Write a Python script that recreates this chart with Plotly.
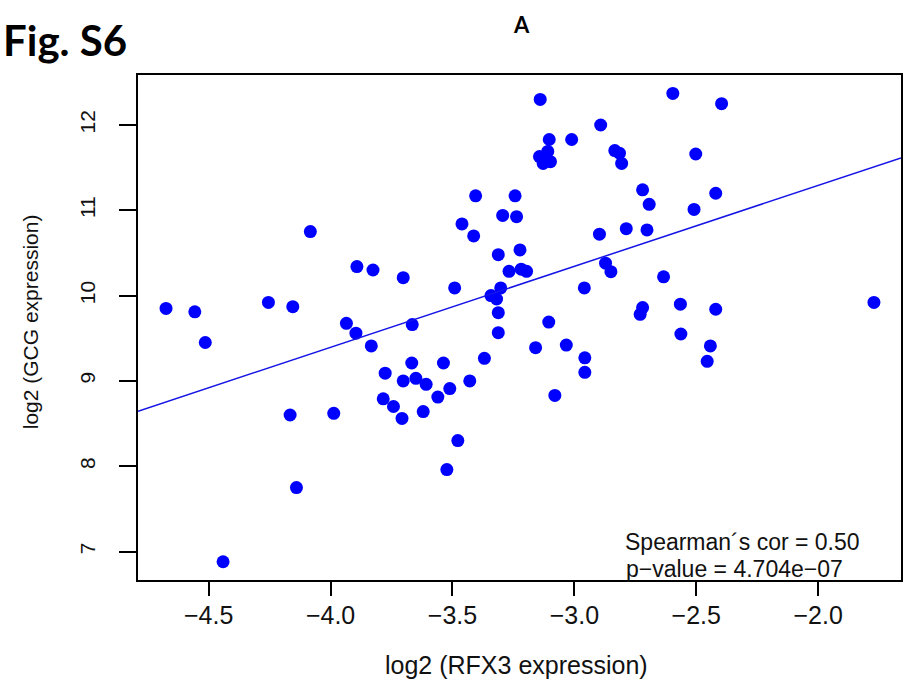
import plotly.graph_objects as go

# log2 (RFX3 expression)
rfx3 = [-4.675, -4.557, -4.514, -4.441, -4.255, -4.166, -4.155, -4.140, -4.083, -3.987,
        -3.935, -3.896, -3.892, -3.833, -3.826, -3.776, -3.784, -3.742, -3.707, -3.702,
        -3.702, -3.667, -3.665, -3.650, -3.620, -3.608, -3.560, -3.537, -3.523, -3.511,
        -3.491, -3.478, -3.461, -3.429, -3.413, -3.405, -3.369, -3.342, -3.319, -3.312,
        -3.312, -3.312, -3.302, -3.294, -3.268, -3.243, -3.237, -3.223, -3.218, -3.196,
        -3.159, -3.143, -3.140, -3.128, -3.109, -3.105, -3.103, -3.098, -3.080, -3.033,
        -3.011, -2.959, -2.957, -2.957, -2.897, -2.892, -2.872, -2.850, -2.834, -2.815,
        -2.806, -2.787, -2.730, -2.720, -2.720, -2.702, -2.693, -2.634, -2.596, -2.565,
        -2.563, -2.509, -2.502, -2.455, -2.442, -2.420, -2.420, -2.396, -1.771]

# log2 (GCG expression)
gcg = [9.85, 9.81, 9.45, 6.88, 9.92, 8.60, 9.87, 7.75, 10.75, 8.62,
       9.675, 9.56, 10.34, 9.41, 10.30, 9.09, 8.79, 8.70, 8.56, 10.21,
       9.00, 9.21, 9.66, 9.03, 8.64, 8.96, 8.81, 9.21, 7.96, 8.91,
       10.09, 8.30, 10.84, 9.00, 10.70, 11.17, 9.265, 10.00, 9.96, 10.48,
       9.80, 9.565, 10.09, 10.94, 10.285, 11.17, 10.925, 10.535, 10.31, 10.285,
       9.39, 11.63, 12.30, 11.55, 11.69, 9.69, 11.83, 11.57, 8.83, 9.42,
       11.83, 10.09, 9.27, 9.10, 10.72, 12.00, 10.38, 10.28, 11.70, 11.67,
       11.55, 10.785, 9.78, 9.86, 11.24, 10.77, 11.07, 10.22, 12.37, 9.90,
       9.55, 11.01, 11.66, 9.23, 9.41, 11.20, 9.84, 12.25, 9.92]

# Fitted regression line
fit_intercept = 13.19
fit_slope = 0.949

x_range = [-4.79, -1.66]
y_range = [6.666, 12.586]
x_ticks = [-4.5, -4.0, -3.5, -3.0, -2.5, -2.0]
x_tick_labels = ["\u22124.5", "\u22124.0", "\u22123.5", "\u22123.0", "\u22122.5", "\u22122.0"]
y_ticks = [7, 8, 9, 10, 11, 12]
y_tick_labels = ["7", "8", "9", "10", "11", "12"]

stat_lines = ["Spearman\u00b4s cor = 0.50", "p\u2212value = 4.704e\u221207"]

fit_x = x_range
fit_y = [fit_intercept + fit_slope * v for v in fit_x]

fig = go.Figure()
fig.add_trace(go.Scatter(x=rfx3, y=gcg, mode="markers",
                         marker=dict(color="#0000ff", size=13, line=dict(width=0)),
                         showlegend=False, hoverinfo="x+y"))
fig.add_trace(go.Scatter(x=fit_x, y=fit_y, mode="lines",
                         line=dict(color="#1414e6", width=1.5),
                         showlegend=False, hoverinfo="skip"))

ARIAL = "Liberation Sans, Arial, sans-serif"

fig.update_layout(
    width=904, height=687,
    margin=dict(l=138, r=1, t=75, b=107),
    paper_bgcolor="white", plot_bgcolor="white",
    font=dict(family=ARIAL, color="#111111"),
    xaxis=dict(range=x_range, tickvals=x_ticks, ticktext=x_tick_labels,
               showgrid=False, zeroline=False, showline=True, mirror=True,
               linecolor="black", linewidth=2, ticks="outside", ticklen=14,
               tickwidth=2, tickcolor="black", tickfont=dict(size=25, family=ARIAL),
               ticklabelstandoff=-2),
    yaxis=dict(range=y_range, tickvals=y_ticks, ticktext=y_tick_labels,
               showgrid=False, zeroline=False, showline=True, mirror=True,
               linecolor="black", linewidth=2, ticks="outside", ticklen=17,
               tickwidth=2, tickcolor="black", tickangle=-90,
               tickfont=dict(size=21, family=ARIAL), ticklabelstandoff=16),
)

def px_x(px):
    return (px - 138) / 765.0

def px_y(py):
    return (580 - py) / 505.0

annos = [
    dict(text="<b>Fig. S6</b>", x=px_x(1), y=px_y(40), xanchor="left", yanchor="middle",
         font=dict(size=42, family="Lato, sans-serif", color="black")),
    dict(text="<b>A</b>", x=px_x(523), y=px_y(25), xanchor="center", yanchor="middle",
         font=dict(size=22, family="Lato, sans-serif", color="black")),
    dict(text="log2 (RFX3 expression)", x=px_x(517), y=px_y(665), xanchor="center", yanchor="middle",
         font=dict(size=25, family=ARIAL)),
    dict(text="log2 (GCG expression)", x=px_x(30), y=px_y(322), xanchor="center", yanchor="middle",
         textangle=-90, font=dict(size=21, family=ARIAL)),
    dict(text=stat_lines[0], x=px_x(624), y=px_y(542), xanchor="left", yanchor="middle",
         font=dict(size=23, family=ARIAL)),
    dict(text=stat_lines[1], x=px_x(625), y=px_y(569), xanchor="left", yanchor="middle",
         font=dict(size=23, family=ARIAL)),
]
for a in annos:
    a.update(xref="paper", yref="paper", showarrow=False)
    fig.add_annotation(**a)

fig.write_html("out.html",
               config={"displayModeBar": False},
               post_script="document.body.style.margin='0';document.body.style.padding='0';")
